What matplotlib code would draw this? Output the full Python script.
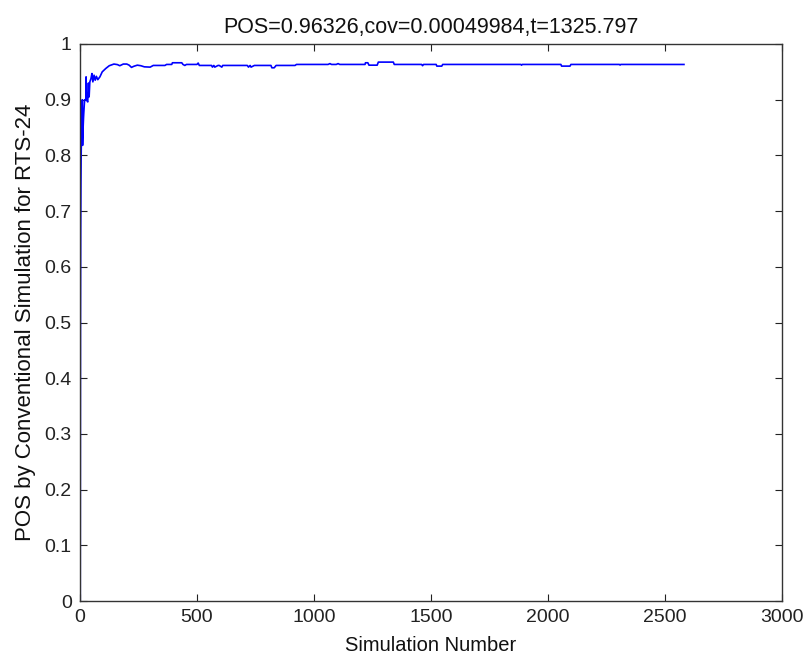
import matplotlib
matplotlib.use("Agg")
import matplotlib.pyplot as plt
from matplotlib.ticker import FixedLocator

# Running estimate of POS vs simulation number
sim_number = [1, 2, 3, 4, 5, 6, 7, 8, 9, 10, 11, 12, 13, 14, 15, 16, 17, 18, 19, 20,
              25, 26, 28, 33, 36, 39, 42, 47, 51, 55, 60, 65, 70, 76, 85, 95, 110,
              125, 145, 160, 170, 185, 200, 210, 220, 230, 245, 260, 275, 300, 313,
              363, 370, 392, 395, 435, 440, 448, 455, 500, 505, 510, 515, 562, 566,
              572, 576, 590, 595, 606, 610, 715, 720, 727, 731, 745, 750, 816, 820,
              830, 838, 842, 919, 925, 1060, 1068, 1075, 1095, 1103, 1110, 1218, 1220,
              1230, 1235, 1270, 1275, 1339, 1343, 1460, 1464, 1468, 1522, 1525, 1546,
              1550, 1884, 1887, 1890, 2055, 2058, 2094, 2098, 2305, 2308, 2311, 2581]
pos_estimate = [0.0, 0.5, 0.667, 0.75, 0.8, 0.833, 0.857, 0.875, 0.889, 0.9, 0.818,
                0.833, 0.846, 0.857, 0.867, 0.875, 0.882, 0.889, 0.895, 0.9,
                0.900, 0.941, 0.900, 0.896, 0.930, 0.905, 0.932, 0.938, 0.947, 0.932,
                0.944, 0.935, 0.942, 0.936, 0.941, 0.950, 0.956, 0.961, 0.964, 0.963,
                0.961, 0.964, 0.964, 0.962, 0.958, 0.960, 0.962, 0.961, 0.959, 0.9585,
                0.9615, 0.9615, 0.9633, 0.9633, 0.9663, 0.9663, 0.9633, 0.9615, 0.9633,
                0.9633, 0.9658, 0.9615, 0.9615, 0.9615, 0.9585, 0.9615, 0.9585, 0.9615,
                0.9615, 0.9585, 0.9615, 0.9615, 0.9585, 0.9615, 0.9585, 0.9615, 0.9615,
                0.9615, 0.9573, 0.9573, 0.9615, 0.9615, 0.9615, 0.9633, 0.9633, 0.9648,
                0.9633, 0.9633, 0.9648, 0.9633, 0.9633, 0.9663, 0.9663, 0.9620, 0.9620,
                0.9675, 0.9675, 0.9633, 0.9633, 0.9610, 0.9633, 0.9633, 0.9603, 0.9603,
                0.9633, 0.9633, 0.9620, 0.9633, 0.9633, 0.9603, 0.9603, 0.9633, 0.9633,
                0.9622, 0.9633, 0.96326]

x_ticks = [0, 500, 1000, 1500, 2000, 2500, 3000]
y_ticks = [0, 0.1, 0.2, 0.3, 0.4, 0.5, 0.6, 0.7, 0.8, 0.9, 1.0]
y_tick_labels = ["0", "0.1", "0.2", "0.3", "0.4", "0.5", "0.6", "0.7", "0.8", "0.9", "1"]

title_text = "POS=0.96326,cov=0.00049984,t=1325.797"
x_label = "Simulation Number"
y_label = "POS by Conventional Simulation for RTS-24"

plt.rcParams['font.family'] = ['Liberation Sans', 'DejaVu Sans']

fig = plt.figure(figsize=(8.04, 6.59), dpi=100)
ax = fig.add_axes([80 / 804, 1 - 601 / 659, (782 - 80) / 804, (601 - 44) / 659])

ax.plot(sim_number, pos_estimate, color="#0000ff", linewidth=1.2)

ax.set_xlim(0, 3000)
ax.set_ylim(0, 1)
ax.xaxis.set_major_locator(FixedLocator(x_ticks))
ax.yaxis.set_major_locator(FixedLocator(y_ticks))
ax.set_yticklabels(y_tick_labels)
ax.tick_params(direction="in", length=5, width=0.8, top=True, right=True,
               labelsize=14, colors="#222222")
ax.tick_params(axis="x", pad=6)
ax.tick_params(axis="y", pad=6)
for s in ax.spines.values():
    s.set_color("#333333")
    s.set_linewidth(1.0)

ax.set_title(title_text, fontsize=15.5, pad=8, color="#111111")
ax.set_xlabel(x_label, fontsize=14.5, labelpad=7, color="#111111")
ax.set_ylabel(y_label, fontsize=16, labelpad=6, color="#111111")

fig.savefig("out.png", dpi=100)
